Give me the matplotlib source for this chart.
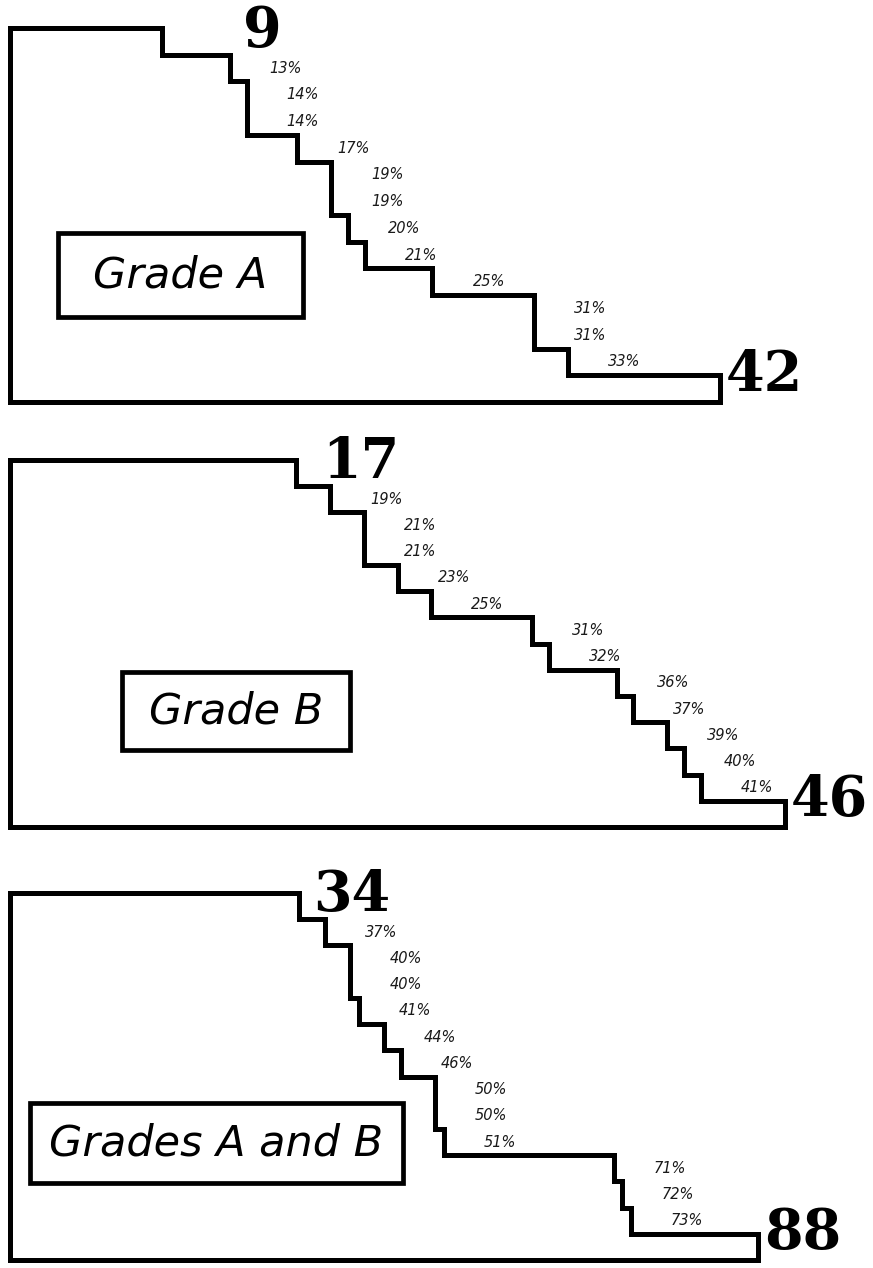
import matplotlib
matplotlib.use("Agg")
import matplotlib.pyplot as plt
from matplotlib.patches import Rectangle
import numpy as np

# values per row, top to bottom
grade_a = [9, 13, 14, 14, 17, 19, 19, 20, 21, 25, 31, 31, 33, 42]
grade_b = [17, 19, 21, 21, 23, 25, 31, 32, 36, 37, 39, 40, 41, 46]
grade_ab = [34, 37, 40, 40, 41, 44, 46, 50, 50, 51, 71, 72, 73, 88]
titles = ["Grade A", "Grade B", "Grades A and B"]

W, H = 873, 1268
fig = plt.figure(figsize=(W / 100, H / 100), dpi=100)

# panel layout in pixels: top, bottom, px per unit, top label dx
panels = [
    (28, 402, 16.9, 81),
    (460, 827, 16.85, 26),
    (893, 1260, 8.5, 14),
]
# label boxes in pixels: x0, x1, y0, y1
boxes = [(58, 303, 233, 317), (122, 350, 672, 750), (30, 403, 1103, 1183)]
left = 10


def draw_panel(vals, top, bottom, scale, top_dx, title, box):
    ax = fig.add_axes([left / W, (H - bottom) / H, (W - left) / W, (bottom - top) / H])
    n = len(vals)
    ax.set_xlim(0, (W - left) / scale)
    ax.set_ylim(n, 0)
    ax.axis("off")

    rows = np.arange(n)
    xs = np.concatenate([[0], np.repeat(vals, 2), [0, 0]])
    ys = np.concatenate([[0], np.column_stack([rows, rows + 1]).ravel(), [n, 0]])
    ax.plot(xs, ys, color="black", lw=3.6, solid_joinstyle="miter", clip_on=False)

    for i in range(1, n - 1):
        ax.annotate(f"{vals[i]}%", xy=(vals[i], i + 0.5), xytext=(40, 0),
                    textcoords="offset pixels", ha="left", va="center",
                    fontsize=10.5, style="italic", color="#1a1a1a")

    big = dict(textcoords="offset pixels", ha="left", va="center",
               fontsize=40, fontweight="bold", family="DejaVu Serif", color="black")
    ax.annotate(str(vals[0]), xy=(vals[0], 0), xytext=(top_dx, -3), **big)
    ax.annotate(str(vals[-1]), xy=(vals[-1], n - 1), xytext=(6, 0), **big)

    x0, x1, y0, y1 = box
    fig.add_artist(Rectangle((x0 / W, 1 - y1 / H), (x1 - x0) / W, (y1 - y0) / H,
                             transform=fig.transFigure, fill=False,
                             lw=3.4, edgecolor="black", joinstyle="miter"))
    fig.text((x0 + x1) / 2 / W, 1 - (y0 + y1) / 2 / H, title, ha="center", va="center",
             fontsize=31, style="italic", color="black")


for vals, (top, bottom, scale, dx), title, box in zip([grade_a, grade_b, grade_ab], panels, titles, boxes):
    draw_panel(vals, top, bottom, scale, dx, title, box)

fig.savefig("out.png", dpi=100, facecolor="white")
